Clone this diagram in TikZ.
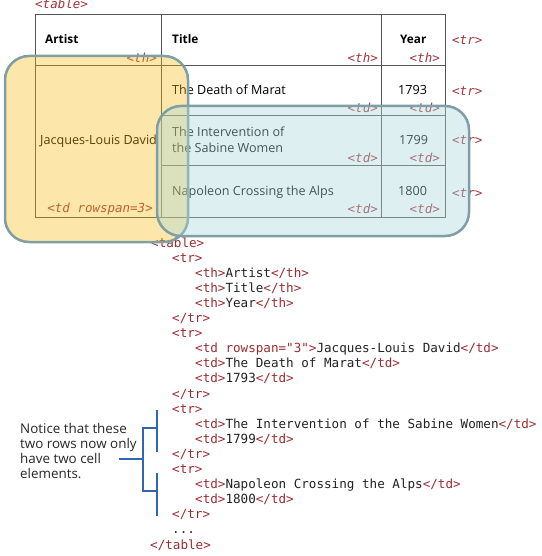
\documentclass[tikz,border=0pt]{standalone}
\usepackage{fontspec}
\setmainfont{Open Sans}
\newfontfamily\codefont{DejaVu Sans Mono}
\definecolor{tagred}{HTML}{9E2A2F}
\definecolor{labred}{HTML}{A3323A}
\definecolor{gridgray}{HTML}{555555}
\definecolor{boxborder}{HTML}{7E9FA5}
\definecolor{orangefill}{HTML}{F7B80C}
\definecolor{tealfill}{HTML}{AAD7D9}
\definecolor{bracketblue}{HTML}{3366B0}
\definecolor{codeblack}{HTML}{222222}
\newcommand\tg[1]{\textcolor{tagred}{#1}}
\tikzset{
  cell/.style={anchor=base west, inner sep=0pt, font={\fontsize{12.6}{14}\selectfont}, text=black},
  hcell/.style={cell, font={\fontsize{11.8}{14}\selectfont\bfseries}},
  tagl/.style={anchor=base east, inner sep=0pt, font={\codefont\itshape\fontsize{12.5}{14}\selectfont}, text=labred},
  tagr/.style={tagl, anchor=base west},
  codeln/.style={anchor=base west, inner sep=0pt, font={\codefont\fontsize{12.6}{15}\selectfont}, text=codeblack},
  grid/.style={draw=gridgray, line width=1pt},
  hilite/.style={draw=boxborder, line width=2.5pt, rounded corners=24pt},
  brk/.style={draw=bracketblue, line width=1.5pt},
  note/.style={anchor=base west, inner sep=0pt, font={\fontsize{13.4}{15}\selectfont}, text=black!85}
}
\begin{document}
\begin{tikzpicture}[x=1pt,y=-1pt]
\useasboundingbox (0,0) rectangle (541,556);
% table grid
\draw[grid] (35,15) rectangle (445,217);
\draw[grid] (35,66) -- (445,66);
\draw[grid] (161,116) -- (445,116);
\draw[grid] (161,166) -- (445,166);
\draw[grid] (161,15) -- (161,217);
\draw[grid] (381,15) -- (381,217);
% cell texts
\node[hcell] (hA) at (45,44) {Artist};
\node[hcell] (hT) at (172,44) {Title};
\node[hcell] (hY) at (400,44) {Year};
\node[cell] (c1) at (172,95) {The Death of Marat};
\node[cell] (y1) at (398,95) {1793};
\node[cell] (c2a) at (172,137) {The Intervention of};
\node[cell] (c2b) at (172,153) {the Sabine Women};
\node[cell] (y2) at (399,145) {1799};
\node[cell] (c3) at (172,195) {Napoleon Crossing the Alps};
\node[cell] (y3) at (398,195) {1800};
\node[cell] (art) at (40,145) {Jacques-Louis David};
% tag labels
\node[tagr] (ltable) at (35,9) {<table>};
\node[tagl] (lth1) at (157,63) {<th>};
\node[tagl] (lth2) at (378,63) {<th>};
\node[tagl] (lth3) at (440,63) {<th>};
\node[tagl] (ltd1) at (378,113) {<td>};
\node[tagl] (ltd2) at (440,113) {<td>};
\node[tagl] (ltd3) at (378,162) {<td>};
\node[tagl] (ltd4) at (440,162) {<td>};
\node[tagl] (ltd5) at (378,213) {<td>};
\node[tagl] (ltd6) at (440,213) {<td>};
\node[tagl] (lrs) at (153,212) {<td rowspan=3>};
\node[tagr] (ltr1) at (452,45) {<tr>};
\node[tagr] (ltr2) at (452,96) {<tr>};
\node[tagr] (ltr3) at (452,145) {<tr>};
\node[tagr] (ltr4) at (452,197) {<tr>};
% code listing
\node[codeln] (k0) at (151,247.0) {\tg{<table>}};
\node[codeln] (k1) at (172,262.1) {\tg{<tr>}};
\node[codeln] (k2) at (195,277.2) {\tg{<th>}Artist\tg{</th>}};
\node[codeln] (k3) at (195,292.3) {\tg{<th>}Title\tg{</th>}};
\node[codeln] (k4) at (195,307.4) {\tg{<th>}Year\tg{</th>}};
\node[codeln] (k5) at (172,322.5) {\tg{</tr>}};
\node[codeln] (k6) at (172,337.6) {\tg{<tr>}};
\node[codeln] (k7) at (195,352.7) {\tg{<td rowspan="3">}Jacques-Louis David\tg{</td>}};
\node[codeln] (k8) at (195,367.8) {\tg{<td>}The Death of Marat\tg{</td>}};
\node[codeln] (k9) at (195,382.9) {\tg{<td>}1793\tg{</td>}};
\node[codeln] (k10) at (172,398.0) {\tg{</tr>}};
\node[codeln] (k11) at (172,413.1) {\tg{<tr>}};
\node[codeln] (k12) at (195,428.2) {\tg{<td>}The Intervention of the Sabine Women\tg{</td>}};
\node[codeln] (k13) at (195,443.3) {\tg{<td>}1799\tg{</td>}};
\node[codeln] (k14) at (172,458.4) {\tg{</tr>}};
\node[codeln] (k15) at (172,473.5) {\tg{<tr>}};
\node[codeln] (k16) at (195,488.6) {\tg{<td>}Napoleon Crossing the Alps\tg{</td>}};
\node[codeln] (k17) at (195,503.7) {\tg{<td>}1800\tg{</td>}};
\node[codeln] (k18) at (172,518.8) {\tg{</tr>}};
\node[codeln] (k19) at (172,533.9) {...};
\node[codeln] (k20) at (150,549.0) {\tg{</table>}};
% annotation
\node[note] (n1) at (20,433) {Notice that these};
\node[note] (n2) at (20,448) {two rows now only};
\node[note] (n3) at (20,463) {have two cell};
\node[note] (n4) at (20,478) {elements.};
\coordinate (bA) at (119,459);
\coordinate (bB) at (143,459);
\draw[brk] (bA) -- (bB);
\draw[brk] (157,428) -| (143,491) -- (157,491);
\draw[brk] (157,410) -- (157,452);
\draw[brk] (157,473) -- (157,516);
% highlight boxes
\draw[hilite, fill=orangefill, fill opacity=0.35] (5,56) rectangle (188,242);
\draw[hilite, fill=tealfill, fill opacity=0.4] (157,106) rectangle (469,236);
\end{tikzpicture}
\end{document}
